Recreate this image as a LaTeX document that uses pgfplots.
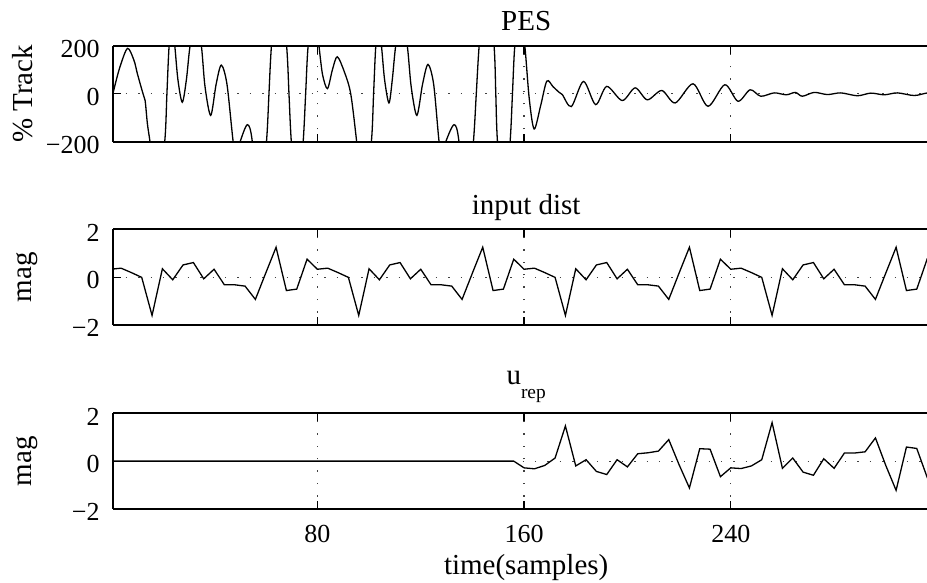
\documentclass[border=0pt]{standalone}
\usepackage{fontspec}
\setmainfont{Liberation Serif}
\usepackage{pgfplots}
\pgfplotsset{compat=1.18}
\pgfplotsset{
 myax/.style={
  scale only axis, width=410pt, height=47.85pt,
  xmin=1, xmax=318.4,
  axis y line*=left,
  xtick={80,160,240},
  grid=major,
  major grid style={black!75, line width=0.6pt, dash pattern=on 0.7pt off 5.5pt},
  tick align=inside, major tick length=4pt,
  every tick/.style={black, line width=0.6pt},
  axis line style={line width=1pt},
  /pgf/number format/assume math mode=true,
  tick label style={font=\fontsize{13}{15}\selectfont},
  yticklabel style={anchor=base east, inner sep=0pt, xshift=-6.65pt, yshift=-5.9pt},
  xticklabel style={anchor=base, inner sep=0pt, yshift=-16.8pt},
  every axis title/.style={at={(axis description cs:0.5035,1)}, anchor=base, yshift=7.5pt, font=\fontsize{14.5}{16}\selectfont},
  label style={font=\fontsize{14.5}{16}\selectfont},
 }
}
\begin{document}
\begin{tikzpicture}[font=\fontsize{13}{15}\selectfont]
\useasboundingbox (0,0) rectangle (463.5pt,291.5pt);
% ---------------- PES ----------------
\begin{axis}[myax, at={(56.65pt,220.65pt)}, anchor=south west,
  ymin=-200, ymax=200, ytick={-200,0,200}, yticklabels={−200,0,200},
  xticklabels={}, title={PES}, ylabel={\% Track},
  ylabel style={at={(axis description cs:-0.1107,0.5)}, anchor=center}]
\addplot[black, line width=0.65pt, smooth] coordinates {
(1,8) (3.5,110) (6.5,190) (9,140) (10.3,85) (12.3,8) (13.3,-27) (14.2,-125) (15.2,-200)
(18,-420) (20.9,-200) (21.75,0) (22.6,200) (23.7,280) (24.8,200) (26,60) (27.7,-35)
(29.3,60) (30.7,200) (33,330) (35.1,200) (36.5,30) (38.7,-90) (40.8,40) (42.8,120)
(45,40) (47.4,-200) (48.7,-260) (50.1,-200) (52.9,-129) (54.8,-200) (57.5,-550)
(60.3,-200) (61.25,0) (62.2,200) (65,600) (68.1,200) (69,0) (69.9,-200) (72.2,-520)
(74.5,-200) (75.45,0) (76.4,200) (78.5,380) (80.6,200) (82,80) (83.9,22) (85.8,100)
(87.7,155) (90.5,90) (92.9,0) (95.2,-200) (98,-480) (100.9,-200) (101.75,0) (102.6,200)
(103.7,280) (104.8,200) (106,60) (107.7,-38) (109,60) (110.3,200) (112.5,330) (114.8,200)
(116.3,30) (118.5,-90) (120.7,40) (122.8,123) (125,40) (127.1,-200) (128.4,-260)
(129.7,-200) (132.9,-129) (134.8,-200) (137.6,-550) (140.4,-200) (141.5,0) (142.6,200)
(145.5,600) (148.4,200) (149.05,0) (149.7,-200) (152.2,-520) (154.6,-200) (155.5,0)
(156.4,200) (158.3,380) (160.3,200) (162,-20) (163.9,-147) (166.4,-50) (168.8,53)
(171.2,30) (173.5,7) (174.8,-3) (178.3,-53) (183,52) (187.7,-45) (192,31) (198,-28)
(203,25) (207.7,-25) (213.3,14) (218.5,-38) (225.4,42) (231.2,-52) (237.7,38)
(242.8,-31) (247.5,17) (251.6,-10) (256.8,4) (261.5,-4) (265,6) (267.7,-10) (272.3,6)
(277.4,-3) (282.6,4) (289,-8) (294.2,3) (299.4,-4) (304.5,4) (311,-7) (316.3,4) (320,0)
};
\end{axis}
% ---------------- input dist ----------------
\begin{axis}[myax, at={(56.65pt,129pt)}, anchor=south west,
  ymin=-2, ymax=2, ytick={-2,0,2}, yticklabels={−2,0,2},
  xticklabels={}, title={input dist}, ylabel={mag},
  ylabel style={at={(axis description cs:-0.1056,0.5)}, anchor=center}]
\addplot[black, line width=0.65pt] coordinates {
(0,0.33) (4,0.375) (8,0.19) (12,-0.01) (16,-1.6) (20,0.35) (24,-0.11) (28,0.51) (32,0.61) (36,-0.07)
(40,0.33) (44,-0.32) (48,-0.32) (52,-0.375) (56,-0.93) (60,0.17) (64,1.25) (68,-0.56) (72,-0.5) (76,0.75)
(80,0.33) (84,0.375) (88,0.19) (92,-0.01) (96,-1.6) (100,0.35) (104,-0.11) (108,0.51) (112,0.61) (116,-0.07)
(120,0.33) (124,-0.32) (128,-0.32) (132,-0.375) (136,-0.93) (140,0.17) (144,1.25) (148,-0.56) (152,-0.5) (156,0.75)
(160,0.33) (164,0.375) (168,0.19) (172,-0.01) (176,-1.6) (180,0.35) (184,-0.11) (188,0.51) (192,0.61) (196,-0.07)
(200,0.33) (204,-0.32) (208,-0.32) (212,-0.375) (216,-0.93) (220,0.17) (224,1.25) (228,-0.56) (232,-0.5) (236,0.75)
(240,0.33) (244,0.375) (248,0.19) (252,-0.01) (256,-1.6) (260,0.35) (264,-0.11) (268,0.51) (272,0.61) (276,-0.07)
(280,0.33) (284,-0.32) (288,-0.32) (292,-0.375) (296,-0.93) (300,0.17) (304,1.25) (308,-0.56) (312,-0.5) (316,0.75)
(320,0.33)
};
\end{axis}
% ---------------- u_rep ----------------
\begin{axis}[myax, at={(56.65pt,37pt)}, anchor=south west,
  ymin=-2, ymax=2, ytick={-2,0,2}, yticklabels={−2,0,2},
  xticklabels={80,160,240},
  title={u\raisebox{-7pt}{\fontsize{9.7}{11}\selectfont rep}},
  title style={yshift=6.7pt},
  ylabel={mag},
  ylabel style={at={(axis description cs:-0.1056,0.5)}, anchor=center},
  xlabel={time(samples)},
  xlabel style={at={(axis description cs:0.5035,0)}, anchor=base, yshift=-33pt}]
\addplot[black, line width=0.65pt] coordinates {
(0,0) (156,0) (160,-0.28) (164,-0.32) (168,-0.18) (172,0.13) (176,1.47) (180,-0.2) (184,0.06)
(188,-0.43) (192,-0.56) (196,0.06) (200,-0.24) (204,0.31) (208,0.35) (212,0.42) (216,0.9)
(220,-0.15) (224,-1.12) (228,0.52) (232,0.5) (236,-0.65) (240,-0.28) (244,-0.31) (248,-0.2)
(252,0.06) (256,1.61) (260,-0.3) (264,0.13) (268,-0.46) (272,-0.59) (276,0.1) (280,-0.3)
(284,0.34) (288,0.34) (292,0.39) (296,0.97) (300,-0.18) (304,-1.22) (308,0.59) (312,0.53)
(316,-0.67) (320,-0.3)
};
\end{axis}
\end{tikzpicture}
\end{document}
